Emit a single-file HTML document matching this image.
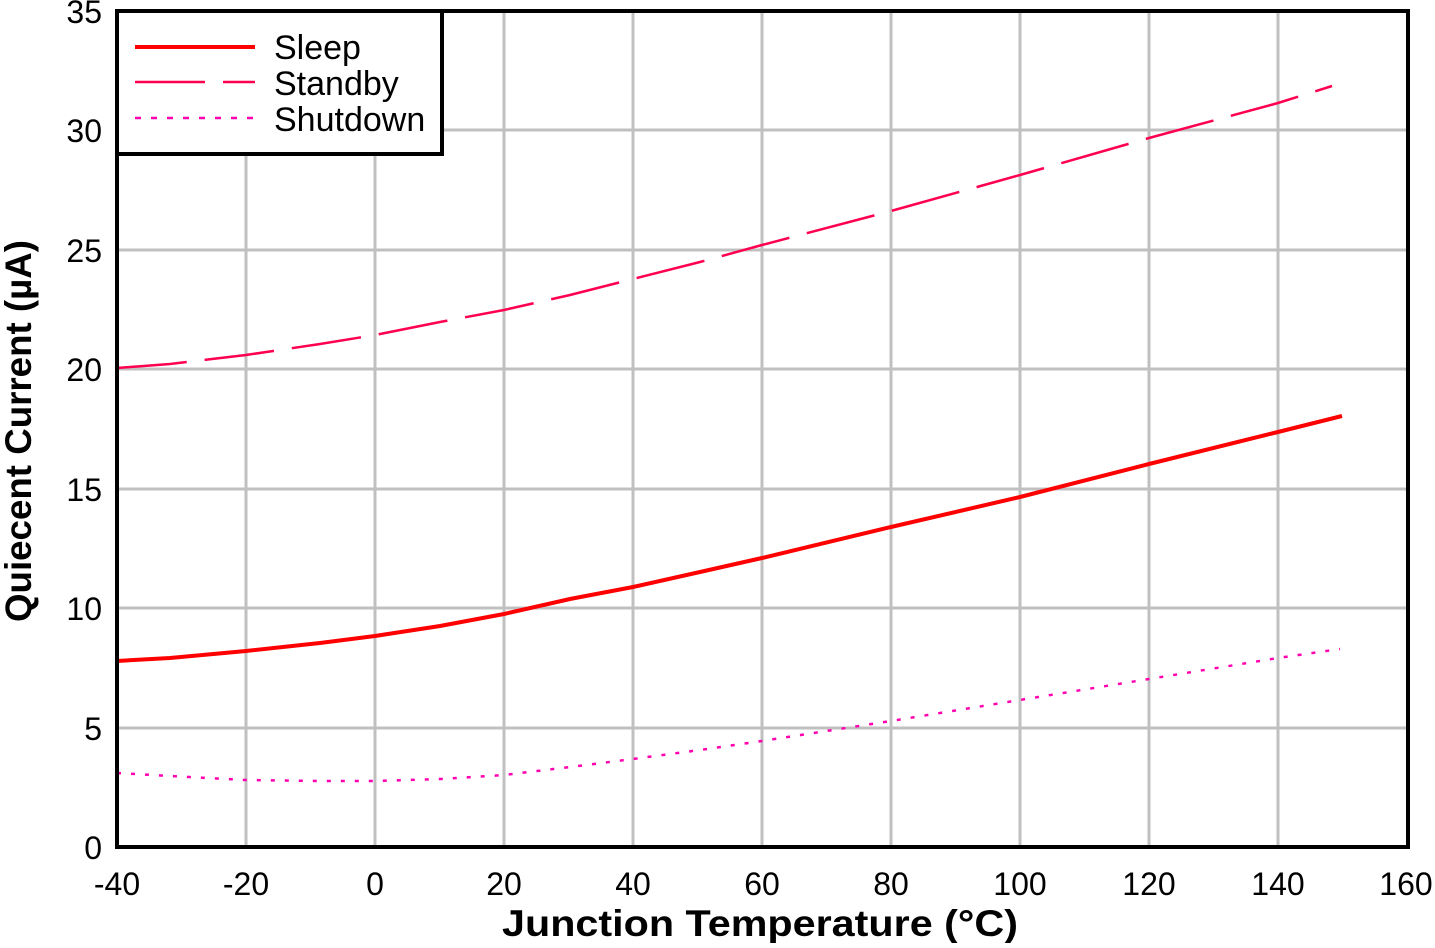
<!DOCTYPE html>
<html><head><meta charset="utf-8"><style>html,body{margin:0;padding:0;background:#fff}</style></head>
<body>
<svg width="1435" height="943" xmlns="http://www.w3.org/2000/svg" font-family="Liberation Sans, Arial, sans-serif">
<rect width="1435" height="943" fill="#fff"/>
<g stroke="#c0c0c0" stroke-width="3">
<line x1="246" y1="11" x2="246" y2="847"/><line x1="375" y1="11" x2="375" y2="847"/><line x1="504" y1="11" x2="504" y2="847"/><line x1="633" y1="11" x2="633" y2="847"/><line x1="762" y1="11" x2="762" y2="847"/><line x1="891" y1="11" x2="891" y2="847"/><line x1="1020" y1="11" x2="1020" y2="847"/><line x1="1149" y1="11" x2="1149" y2="847"/><line x1="1278" y1="11" x2="1278" y2="847"/>
<line x1="117" y1="130" x2="1408" y2="130"/><line x1="117" y1="250" x2="1408" y2="250"/><line x1="117" y1="369" x2="1408" y2="369"/><line x1="117" y1="489" x2="1408" y2="489"/><line x1="117" y1="608" x2="1408" y2="608"/><line x1="117" y1="728" x2="1408" y2="728"/>
</g>
<g fill="none">
<polyline stroke="#ff0000" stroke-width="4" points="117,661 170,658 246,651 320,643 375,636 440,626 504,614 570,599 633,587 700,572 762,558 891,527 1020,497 1149,464 1278,432 1342,416"/>
<polyline stroke="#ff0050" stroke-width="2.5" stroke-dasharray="70,18" points="117,368 170,364 246,355 320,344 375,335 440,322 504,310 570,295 633,279 700,262 762,245 891,211 1020,175 1149,138 1278,103 1332,86"/>
<polyline stroke="#ff00b0" stroke-width="2.5" stroke-dasharray="4,10" points="117,773 170,776 246,780 320,781 375,781 440,779 504,775 570,767 633,759 700,750 762,741 891,721 1020,700 1149,679 1278,658 1340,649"/>
</g>
<rect x="117" y="11" width="1291" height="836" fill="none" stroke="#000" stroke-width="4"/>
<rect x="117" y="11" width="325" height="143" fill="#fff" stroke="#000" stroke-width="4"/>
<line x1="135" y1="47" x2="255" y2="47" stroke="#ff0000" stroke-width="4"/>
<line x1="135" y1="82" x2="255" y2="82" stroke="#ff0050" stroke-width="2.5" stroke-dasharray="70,18"/>
<line x1="135" y1="118" x2="255" y2="118" stroke="#ff00b0" stroke-width="2.5" stroke-dasharray="6,10"/>
<g font-size="34" fill="#000">
<text x="274" y="59">Sleep</text><text x="274" y="95">Standby</text><text x="274" y="131">Shutdown</text>
</g>
<g font-size="32" fill="#000" text-anchor="end">
<text x="102" y="23">35</text><text x="102" y="142">30</text><text x="102" y="262">25</text><text x="102" y="381">20</text><text x="102" y="501">15</text><text x="102" y="620">10</text><text x="102" y="740">5</text><text x="102" y="859">0</text>
</g>
<g font-size="32" fill="#000" text-anchor="middle">
<text x="117" y="895">-40</text><text x="246" y="895">-20</text><text x="375" y="895">0</text><text x="504" y="895">20</text><text x="633" y="895">40</text><text x="762" y="895">60</text><text x="891" y="895">80</text><text x="1020" y="895">100</text><text x="1149" y="895">120</text><text x="1278" y="895">140</text><text x="1406" y="895">160</text>
</g>
<text x="760" y="936" font-size="37" font-weight="bold" text-anchor="middle" textLength="516" lengthAdjust="spacingAndGlyphs">Junction Temperature (°C)</text>
<text transform="translate(31,431) rotate(-90)" font-size="37" font-weight="bold" text-anchor="middle" textLength="382" lengthAdjust="spacingAndGlyphs">Quiecent Current (µA)</text>
</svg>
</body></html>
